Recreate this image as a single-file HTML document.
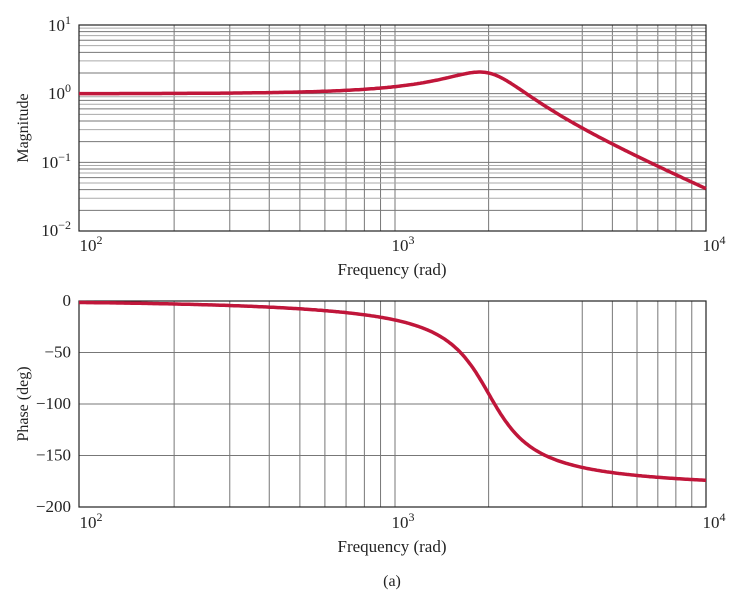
<!DOCTYPE html>
<html><head><style>body{margin:0;background:#fff}svg{display:block}text{font-family:"Liberation Serif",serif;fill:#222}</style></head>
<body><svg id="s" width="738" height="602" xmlns="http://www.w3.org/2000/svg"></svg>
<script>
const s=document.getElementById('s');let h='';
const X0=79,XM=395,X1=706;
const xp=w=>{const l=Math.log10(w);return l<=3?X0+(l-2)*(XM-X0):XM+(l-3)*(X1-XM);};
const T0=25,T1=231,td=(T1-T0)/3;
const ym=m=>T0+(1-Math.log10(m))*td;
const B0=301,B1=507;
const yp=p=>B0+(-p)/200*(B1-B0);
function ln(x1,y1,x2,y2,c,w){h+=`<line x1="${x1}" y1="${y1}" x2="${x2}" y2="${y2}" stroke="${c}" stroke-width="${w}"/>`;}
for(let d=2;d<4;d++)for(let k=2;k<10;k++){if(d==3&&k==3)continue;const x=xp(k*10**d);ln(x,T0,x,T1,'#777',1);ln(x,B0,x,B1,'#777',1);}
{const x=xp(1000);ln(x,T0,x,T1,'#777',1);ln(x,B0,x,B1,'#777',1);}
for(let d=-2;d<1;d++)for(let k=2;k<10;k++){const y=ym(k*10**d);ln(X0,y,X1,y,k%2?'#aaa':'#777',1);}
ln(X0,ym(1),X1,ym(1),'#777',1);ln(X0,ym(0.1),X1,ym(0.1),'#777',1);
for(const p of[-50,-100,-150])ln(X0,yp(p),X1,yp(p),'#777',1);
h+=`<rect x="${X0}" y="${T0}" width="${X1-X0}" height="${T1-T0}" fill="none" stroke="#222" stroke-width="1.2"/>`;
h+=`<rect x="${X0}" y="${B0}" width="${X1-X0}" height="${B1-B0}" fill="none" stroke="#222" stroke-width="1.2"/>`;
const wn=2000,z=0.25;let pm='',pp='';
for(let i=0;i<=400;i++){const w=10**(2+2*i/400),r=w/wn;const re=1-r*r,im=2*z*r;
const m=1/Math.hypot(re,im);let ph=-Math.atan2(im,re)*180/Math.PI;
pm+=(i?'L':'M')+xp(w).toFixed(1)+','+ym(m).toFixed(1);pp+=(i?'L':'M')+xp(w).toFixed(1)+','+yp(ph).toFixed(1);}
h+=`<path d="${pm}" fill="none" stroke="#c0163a" stroke-width="3.5"/><path d="${pp}" fill="none" stroke="#c0163a" stroke-width="3.5"/>`;
function t(x,y,s,a,sz){h+=`<text x="${x}" y="${y}" text-anchor="${a||'middle'}" font-size="${sz||17}">${s}</text>`;}
const sup=(b,e)=>`${b}<tspan dy="-7" font-size="12">${e}</tspan>`;
t(71,31,sup('10','1'),'end');t(71,99,sup('10','0'),'end');t(71,168,sup('10','−1'),'end');t(71,236,sup('10','−2'),'end');
for(const [y,l] of [[B0,'0'],[yp(-50),'−50'],[yp(-100),'−100'],[yp(-150),'−150'],[B1,'−200']])t(71,y+5,l,'end');
for(const yy of [251,528]){t(X0+12,yy,sup('10','2'));t(XM+8,yy,sup('10','3'));t(X1+8,yy,sup('10','4'));}
t(392,275,'Frequency (rad)');t(392,552,'Frequency (rad)');t(392,586,'(a)',null,16);
h+=`<text transform="translate(28,128) rotate(-90)" text-anchor="middle" font-size="16">Magnitude</text>`;
h+=`<text transform="translate(28,404) rotate(-90)" text-anchor="middle" font-size="16">Phase (deg)</text>`;
s.innerHTML=h;
</script></body></html>
